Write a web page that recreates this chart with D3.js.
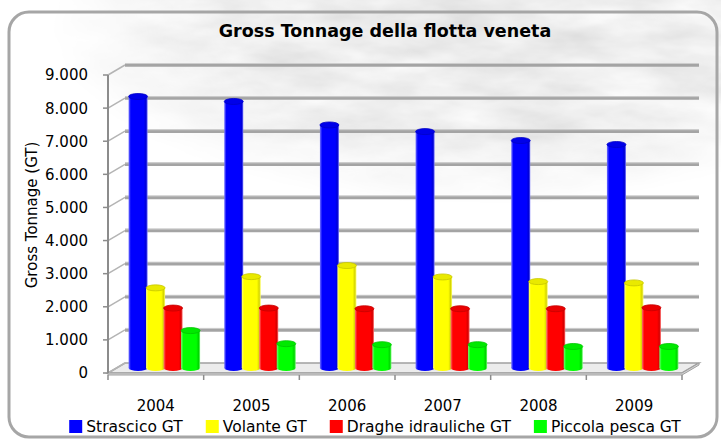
<!DOCTYPE html>
<html>
<head>
<meta charset="utf-8">
<script src="https://cdn.jsdelivr.net/npm/d3@7"></script>
<style>
	body { margin: 0; background: #fff; }
	svg { display: block; }
	text { font-family: "DejaVu Sans", sans-serif; fill: #000; }
</style>
</head>
<body>
<svg id="chart" width="721" height="439"></svg>
<script>
"use strict";

var years = ["2004", "2005", "2006", "2007", "2008", "2009"];
var seriesNames = ["Strascico GT", "Volante GT", "Draghe idrauliche GT", "Piccola pesca GT"];
var seriesColors = ["#0000ff", "#ffff00", "#ff0000", "#00ff00"];

var strascico = [8200, 8050, 7340, 7140, 6870, 6750];
var volante = [2420, 2760, 3095, 2750, 2610, 2570];
var draghe = [1810, 1810, 1790, 1790, 1790, 1820];
var piccola = [1130, 735, 705, 705, 650, 650];

var yTicks = [0, 1000, 2000, 3000, 4000, 5000, 6000, 7000, 8000, 9000];

var seriesValues = [strascico, volante, draghe, piccola];

// depth of the 3d box (back wall offset)
var dx = 17, dy = -10;
var barWidth = 19, capRy = 3;

var it = d3.formatLocale({decimal: ",", thousands: ".", grouping: [3], currency: ["€", ""]});
var fmt = it.format(",d");

var svg = d3.select("#chart");
var defs = svg.append("defs");

var x0 = d3.scaleBand().domain(years).range([108, 682]);
var x1 = d3.scalePoint().domain(seriesNames).range([-26.25, 26.25]);
var y = d3.scaleLinear().domain([0, 9000]).range([373, 75]);

// background texture
var filter = defs.append("filter").attr("id", "marble")
	.attr("x", 0).attr("y", 0).attr("width", 1).attr("height", 1);
filter.append("feTurbulence")
	.attr("type", "fractalNoise")
	.attr("baseFrequency", "0.012 0.035")
	.attr("numOctaves", 4)
	.attr("seed", 7);
filter.append("feColorMatrix")
	.attr("type", "matrix")
	.attr("values", "0.35 0 0 0 0.66  0.35 0 0 0 0.66  0.35 0 0 0 0.66  0 0 0 0 1");

var fade = defs.append("radialGradient").attr("id", "fade")
	.attr("gradientUnits", "userSpaceOnUse")
	.attr("cx", 480).attr("cy", 25).attr("r", 430)
	.attr("gradientTransform", "translate(480,25) scale(1,0.42) translate(-480,-25)");
fade.append("stop").attr("offset", "0").attr("stop-color", "#fff").attr("stop-opacity", 1);
fade.append("stop").attr("offset", "0.6").attr("stop-color", "#fff").attr("stop-opacity", 0.85);
fade.append("stop").attr("offset", "1").attr("stop-color", "#fff").attr("stop-opacity", 0);

defs.append("mask").attr("id", "fadeMask")
	.append("rect").attr("width", 721).attr("height", 439).attr("fill", "url(#fade)");

svg.append("rect").attr("width", 721).attr("height", 439).attr("fill", "#fff");
svg.append("rect").attr("width", 721).attr("height", 439)
	.attr("filter", "url(#marble)")
	.attr("mask", "url(#fadeMask)");

// frame
svg.append("rect")
	.attr("x", 9).attr("y", 12)
	.attr("width", 708).attr("height", 425)
	.attr("rx", 20)
	.attr("fill", "none")
	.attr("stroke", "#a6a6a6")
	.attr("stroke-width", 3);

svg.append("text")
	.attr("x", 385).attr("y", 37)
	.attr("text-anchor", "middle")
	.style("font-weight", "bold")
	.style("font-size", "17.5px")
	.text("Gross Tonnage della flotta veneta");

// floor
var x0l = x0.range()[0], x0r = x0.range()[1];
svg.append("polygon")
	.attr("points", [[x0l, y(0)], [x0r, y(0)], [x0r + dx, y(0) + dy], [x0l + dx, y(0) + dy]].join(" "))
	.attr("fill", "#ececec")
	.attr("stroke", "#a0a0a0")
	.attr("stroke-width", 1.5);
svg.append("polygon")
	.attr("points", [[x0l, y(0)], [x0r, y(0)], [x0r + dx, y(0) + dy], [x0r + dx, y(0) + dy + 2], [x0r, y(0) + 2], [x0l, y(0) + 2]].join(" "))
	.attr("fill", "#d4d4d4")
	.attr("stroke", "#a0a0a0")
	.attr("stroke-width", 1);

// gridlines on the back wall and side wall
var grid = svg.append("g");
grid.selectAll("line.side")
	.data(yTicks)
	.enter().append("line")
	.attr("class", "side")
	.attr("x1", x0l).attr("y1", function(d) { return y(d); })
	.attr("x2", x0l + dx).attr("y2", function(d) { return y(d) + dy; })
	.attr("stroke", "#b4b4b4")
	.attr("stroke-width", 1.5);
grid.selectAll("line.back")
	.data(yTicks.slice(1))
	.enter().append("line")
	.attr("class", "back")
	.attr("x1", x0l + dx).attr("y1", function(d) { return y(d) + dy; })
	.attr("x2", x0r + dx).attr("y2", function(d) { return y(d) + dy; })
	.attr("stroke", "#a4a4a4")
	.attr("stroke-width", 3.5);
grid.selectAll("line.hi")
	.data(yTicks.slice(1))
	.enter().append("line")
	.attr("class", "hi")
	.attr("x1", x0l + dx).attr("y1", function(d) { return y(d) + dy - 1.5; })
	.attr("x2", x0r + dx).attr("y2", function(d) { return y(d) + dy - 1.5; })
	.attr("stroke", "#cdcdcd")
	.attr("stroke-width", 1);

// y axis
var yAxis = svg.append("g");
yAxis.append("line")
	.attr("x1", x0l).attr("x2", x0l)
	.attr("y1", y(9000)).attr("y2", y(0))
	.attr("stroke", "#8c8c8c").attr("stroke-width", 2);
yAxis.selectAll("line.tick")
	.data(yTicks)
	.enter().append("line")
	.attr("class", "tick")
	.attr("x1", x0l - 5).attr("x2", x0l)
	.attr("y1", function(d) { return y(d); })
	.attr("y2", function(d) { return y(d); })
	.attr("stroke", "#8c8c8c").attr("stroke-width", 1.5);
yAxis.selectAll("text")
	.data(yTicks)
	.enter().append("text")
	.attr("x", 88)
	.attr("y", function(d) { return y(d); })
	.attr("dy", "0.36em")
	.attr("text-anchor", "end")
	.style("font-size", "15px")
	.text(function(d) { return fmt(d); });

svg.append("text")
	.attr("transform", "translate(32,215) rotate(-90)")
	.attr("text-anchor", "middle")
	.attr("dy", "0.36em")
	.style("font-size", "15px")
	.text("Gross Tonnage (GT)");

// x axis
var xAxis = svg.append("g");
var bounds = years.map(function(d) { return x0(d); }).concat([x0r]);
xAxis.selectAll("line")
	.data(bounds)
	.enter().append("line")
	.attr("x1", function(d) { return d; }).attr("x2", function(d) { return d; })
	.attr("y1", y(0) + 2).attr("y2", y(0) + 7)
	.attr("stroke", "#8c8c8c").attr("stroke-width", 1.5);
xAxis.selectAll("text")
	.data(years)
	.enter().append("text")
	.attr("x", function(d) { return x0(d) + x0.bandwidth() / 2; })
	.attr("y", 411)
	.attr("text-anchor", "middle")
	.style("font-size", "15px")
	.text(function(d) { return d; });

// cylinder shading
seriesColors.forEach(function(c, j) {
	var base = d3.color(c);
	var light = d3.interpolateRgb(c, "#ffffff")(0.45);
	var dark = base.darker(0.5);
	var g = defs.append("linearGradient").attr("id", "cyl" + j)
		.attr("x1", 0).attr("x2", 1).attr("y1", 0).attr("y2", 0);
	g.append("stop").attr("offset", "0").attr("stop-color", light);
	g.append("stop").attr("offset", "0.12").attr("stop-color", c);
	g.append("stop").attr("offset", "0.8").attr("stop-color", c);
	g.append("stop").attr("offset", "0.92").attr("stop-color", dark);
	g.append("stop").attr("offset", "1").attr("stop-color", light);
});

var bars = [];
years.forEach(function(yr, i) {
	seriesNames.forEach(function(name, j) {
		bars.push({year: yr, series: name, j: j, value: seriesValues[j][i]});
	});
});

var barG = svg.append("g");
var cyl = barG.selectAll("g")
	.data(bars)
	.enter().append("g")
	.attr("transform", function(d) {
		var cx = x0(d.year) + x0.bandwidth() / 2 + x1(d.series) + dx / 2;
		return "translate(" + cx + ",0)";
	});
cyl.append("ellipse")
	.attr("cx", 0).attr("cy", y(0) + dy / 2)
	.attr("rx", barWidth / 2).attr("ry", capRy)
	.attr("fill", function(d) { return "url(#cyl" + d.j + ")"; });
cyl.append("rect")
	.attr("x", -barWidth / 2)
	.attr("y", function(d) { return y(d.value) + dy / 2; })
	.attr("width", barWidth)
	.attr("height", function(d) { return y(0) - y(d.value); })
	.attr("fill", function(d) { return "url(#cyl" + d.j + ")"; });
cyl.append("ellipse")
	.attr("cx", 0)
	.attr("cy", function(d) { return y(d.value) + dy / 2; })
	.attr("rx", barWidth / 2).attr("ry", capRy)
	.attr("fill", function(d) { return d3.color(seriesColors[d.j]).darker(0.25); })
	.attr("stroke", function(d) { return d3.color(seriesColors[d.j]).darker(0.7); })
	.attr("stroke-width", 0.8);

// legend
var legend = svg.append("g");
var items = legend.selectAll("g")
	.data(seriesNames)
	.enter().append("g");
items.append("rect")
	.attr("width", 13).attr("height", 13)
	.attr("y", 420)
	.attr("fill", function(d, j) { return seriesColors[j]; });
items.append("text")
	.attr("x", 17).attr("y", 432)
	.style("font-size", "15.5px")
	.text(function(d) { return d; });

var widths = [];
items.selectAll("text").each(function() { widths.push(this.getComputedTextLength()); });
var gap = 23;
var total = d3.sum(widths, function(w) { return w + 17; }) + gap * (widths.length - 1);
var pos = 375 - total / 2;
items.attr("transform", function(d, j) {
	var t = "translate(" + pos + ",0)";
	pos += widths[j] + 17 + gap;
	return t;
});
</script>
</body>
</html>
